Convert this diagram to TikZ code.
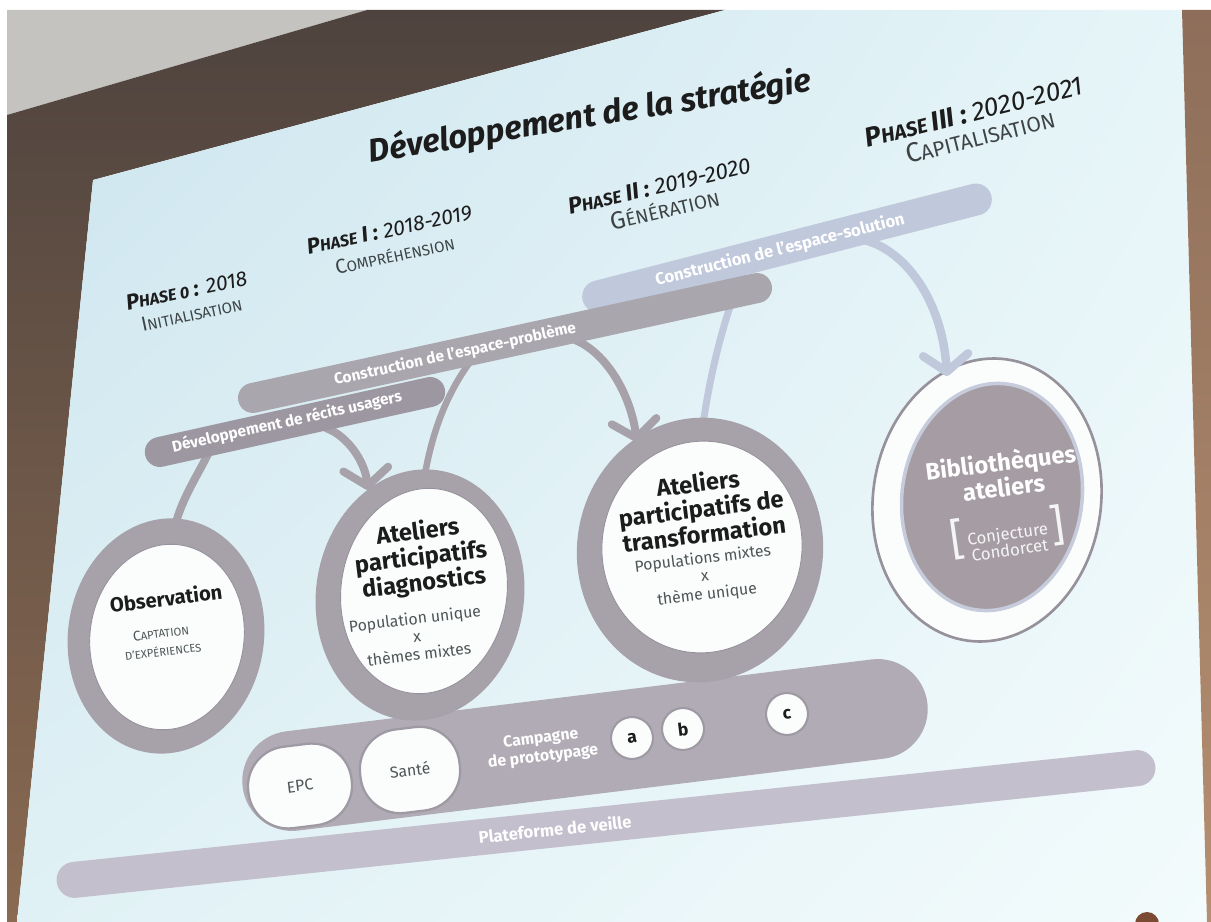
\documentclass[tikz,border=0pt]{standalone}
\usepackage{fontspec}
\setmainfont{Fira Sans}
\usetikzlibrary{arrows.meta,shapes.geometric,shadings}
\definecolor{ceil}{HTML}{C4C3C0}
\definecolor{wall}{HTML}{4E433E}
\definecolor{wallb}{HTML}{8A6A52}
\definecolor{stripA}{HTML}{8E6E5A}
\definecolor{stripB}{HTML}{B58F70}
\definecolor{slUL}{HTML}{CCE4EE}
\definecolor{slUR}{HTML}{E6F5F8}
\definecolor{slLL}{HTML}{E0F1F5}
\definecolor{slLR}{HTML}{F3FBFC}
\definecolor{ring}{HTML}{A7A2AA}
\definecolor{ringd}{HTML}{96919A}
\definecolor{bandc}{HTML}{B0ABB4}
\definecolor{recit}{HTML}{9C97A0}
\definecolor{prob}{HTML}{AAA6AE}
\definecolor{plat}{HTML}{C3BFCD}
\definecolor{sol}{HTML}{C0C8DC}
\definecolor{inner}{HTML}{FBFDFD}
\definecolor{pillrim}{HTML}{9E99A2}
\definecolor{txt}{HTML}{1C1C1C}
\definecolor{sub}{HTML}{4E5556}
\definecolor{bib}{HTML}{A69DA4}
\definecolor{bibrim}{HTML}{C6CCDC}
\definecolor{head}{HTML}{7B4A32}
% fake small caps: big size, small size, big text, small text
\newcommand\SCx[4]{{\fontsize{#1}{#1}\selectfont #3}{\fontsize{#2}{#2}\selectfont #4}}
\tikzset{
  phase/.style={inner sep=0, text=txt, align=center},
  bandtxt/.style={inner sep=0, text=white, font=\bfseries\fontsize{8.8}{10.5}\selectfont},
  ringnode/.style={ellipse, fill=ring, inner sep=0, rotate=-8},
  innernode/.style={ellipse, fill=inner, draw=ringd, line width=0.5pt, inner sep=0, rotate=-8},
  ctitle/.style={inner sep=0, text=txt, rotate=7, align=center, font=\bfseries\fontsize{13.5}{14.6}\selectfont},
  csub/.style={inner sep=0, text=sub, rotate=7, align=center, font=\fontsize{9}{10.2}\selectfont},
  pill/.style={fill=inner, draw=pillrim, line width=1.3pt, rotate=7, inner sep=0, text=sub, font=\fontsize{9}{11}\selectfont},
  abc/.style={circle, fill=inner, draw=pillrim, line width=1.2pt, minimum size=0.84cm, inner sep=0, rotate=7, text=txt, font=\bfseries\fontsize{10}{12}\selectfont},
  gline/.style={draw=ring, line width=0.16cm, line cap=round},
  bline/.style={draw=sol, line width=0.15cm, line cap=round},
  barb/.style={-{Straight Barb[length=0.34cm,width=0.9cm,round]}}
}
\begin{document}
\begin{tikzpicture}[x=0.02cm,y=-0.02cm]
\useasboundingbox (0,0) rectangle (1211,922);
% background photo
\fill[white] (0,0) rectangle (1211,922);
\fill[ceil] (7,10) -- (367,10) -- (7,115) -- cycle;
\shade[top color=wall, bottom color=wallb] (7,115) -- (367,10) -- (725,10) -- (93,180) -- (17,922) -- (7,922) -- cycle;
\shade[upper left=slUL, upper right=slUR, lower left=slLL, lower right=slLR] (93,180) -- (725,10) -- (1182,10) -- (1207,922) -- (17,922) -- cycle;
\shade[top color=stripA, bottom color=stripB] (1182,10) -- (1211,10) -- (1211,922) -- (1207,922) -- cycle;
\fill[head] (1147,924) circle (12);

% bottom bands
\node[fill=plat, rounded corners=0.36cm, minimum width=22.1cm, minimum height=0.72cm, rotate=6, inner sep=0] (plat) at (606,824) {};
\node[fill=bandc, rounded corners=1cm, minimum width=13.8cm, minimum height=2cm, rotate=7, inner sep=0] (camp) at (585,745) {};

% link lines (under shapes)
\coordinate (r1) at (210,450);
\coordinate (obsTop) at (175,526);
\draw[gline] (r1) .. controls (198,475) and (182,498) .. (obsTop);
\coordinate (diagTop) at (424,480);
\coordinate (p1) at (470,362);
\draw[gline, line width=0.13cm] (diagTop) .. controls (432,430) and (448,392) .. (p1);
\coordinate (trTop) at (702,432);
\coordinate (s1) at (744,270);
\draw[bline, line width=0.14cm] (trTop) .. controls (708,385) and (722,320) .. (s1);

% circles
\node[ringnode, minimum width=3.92cm, minimum height=4.72cm] (obs) at (166,636) {};
\node[innernode, minimum width=3.08cm, minimum height=3.72cm] (obsI) at (167,637) {};
\node[ringnode, minimum width=4.16cm, minimum height=5.04cm] (diag) at (420,595) {};
\node[innernode, minimum width=3.32cm, minimum height=4.12cm] (diagI) at (424,591) {};
\node[ringnode, minimum width=4.92cm, minimum height=5.3cm] (trans) at (700,550) {};
\node[innernode, minimum width=4cm, minimum height=4.24cm] (transI) at (702,547) {};
\node[ellipse, fill=inner, draw=ringd, line width=1.5pt, rotate=-8, inner sep=0, minimum width=4.56cm, minimum height=5.68cm] (bib) at (987,500) {};
\node[ellipse, fill=bib, draw=bibrim, line width=2pt, rotate=-8, inner sep=0, minimum width=3.6cm, minimum height=4.56cm] (bibI) at (992,497) {};

% pills and small circles
\node[pill, minimum width=2.08cm, minimum height=1.64cm, rounded corners=0.8cm] (epc) at (300,786) {EPC};
\node[pill, minimum width=2cm, minimum height=1.68cm, rounded corners=0.8cm] (sante) at (410,770) {Santé};
\node[abc] (a) at (632,738) {a};
\node[abc] (b) at (683,729) {b};
\node[abc] (c) at (787,714) {c};

% arrows with heads
\coordinate (r2) at (326,428);
\coordinate (diagIn) at (368,490);
\draw[gline, barb] (r2) .. controls (348,436) and (365,462) .. (diagIn);
\coordinate (p2) at (575,340);
\coordinate (trIn) at (637,442);
\draw[gline, barb] (p2) .. controls (605,352) and (630,392) .. (trIn);
\coordinate (s2) at (864,240);
\coordinate (bibIn) at (947,376);
\draw[bline, line width=0.17cm, barb] (s2) .. controls (905,250) and (942,300) .. (bibIn);

% upper bands
\node[fill=sol, rounded corners=0.32cm, minimum width=8.44cm, minimum height=0.64cm, rotate=14.4, inner sep=0] (solband) at (787,248) {};
\node[fill=prob, rounded corners=0.3cm, minimum width=10.92cm, minimum height=0.6cm, rotate=12.3, inner sep=0] (probband) at (505,343) {};
\node[fill=recit, rounded corners=0.3cm, minimum width=6.14cm, minimum height=0.6cm, rotate=12.5, inner sep=0] (recband) at (295,422) {};

% band texts
\node[bandtxt, rotate=12.5] (recT) at (287,422) {Développement de récits usagers};
\node[bandtxt, rotate=12.3] (probT) at (455,354) {Construction de l'espace-problème};
\node[bandtxt, rotate=14, font=\bfseries\fontsize{9.5}{11}\selectfont] (solT) at (780,250) {Construction de l'espace-solution};
\node[bandtxt, rotate=6, font=\bfseries\fontsize{9.5}{11}\selectfont] (platT) at (555,829) {Plateforme de veille};
\node[bandtxt, rotate=7, align=center, font=\bfseries\fontsize{9}{10.5}\selectfont] (campT) at (542,748) {Campagne\\de prototypage};

% title and phases
\node[inner sep=0, text=txt, rotate=9.2, font=\bfseries\itshape\fontsize{18.5}{21}\selectfont] (title) at (590,117) {Développement de la stratégie};
\node[phase, rotate=12, font=\fontsize{12}{13.5}\selectfont] (p0) at (189,302)
  {{\bfseries\itshape\SCx{12.5}{9.3}{P}{HASE 0} \SCx{12.5}{9.3}{:}{}} {\itshape\SCx{12}{9}{2018}{}}\\
   {\color{sub!80!black}\SCx{11.5}{8.6}{I}{NITIALISATION}}};
\node[phase, rotate=12, font=\fontsize{12}{14.5}\selectfont] (p1) at (392,242)
  {{\bfseries\itshape\SCx{12.5}{9.3}{P}{HASE} \SCx{12.5}{9.3}{I :}{}} {\itshape\SCx{12}{9}{2018-2019}{}}\\
   {\color{sub!80!black}\SCx{11.5}{8.6}{C}{OMPRÉHENSION}}};
\node[phase, rotate=13, font=\fontsize{12}{14}\selectfont] (p2) at (662,198)
  {{\bfseries\itshape\SCx{13.2}{9.9}{P}{HASE} \SCx{13.2}{9.9}{II :}{}} {\itshape\SCx{12.8}{9}{2019-2020}{}}\\
   {\color{sub!80!black}\SCx{14}{10.8}{G}{ÉNÉRATION}}};
\node[phase, rotate=14, font=\fontsize{12}{14.5}\selectfont] (p3) at (977,124)
  {{\bfseries\itshape\SCx{15.5}{11.6}{P}{HASE} \SCx{15.5}{11.6}{III :}{}} {\itshape\SCx{15}{9}{2020-2021}{}}\\
   {\color{sub!80!black}\SCx{15.5}{12}{C}{APITALISATION}}};

% circle texts
\node[ctitle, font=\bfseries\fontsize{11.5}{13}\selectfont] (obsA) at (166,598) {Observation};
\node[csub, font=\fontsize{8}{10.5}\selectfont] (obsB) at (162,642) {\SCx{8}{6.4}{C}{APTATION}\\\SCx{6.4}{6.4}{D'EXPÉRIENCES}{}};

\node[ctitle] (dA) at (421,558) {Ateliers\\participatifs\\diagnostics};
\node[csub] (dB) at (417,636) {Population unique\\x\\thèmes mixtes};

\node[ctitle] (tA) at (701,508) {Ateliers\\participatifs de\\transformation};
\node[csub] (tB) at (705,577) {Populations mixtes\\x\\thème unique};

\node[ctitle, text=white, font=\bfseries\fontsize{13.5}{14.5}\selectfont] (bA) at (1002,474) {Bibliothèques\\ateliers};
\node[inner sep=0, rotate=8, text=white!92!gray, font=\fontsize{9.5}{9.5}\selectfont] (bC) at (1008,536)
  {{\fontsize{25}{25}\selectfont[}\,\renewcommand\arraystretch{0.8}\begin{tabular}{@{}c@{}}Conjecture\\Condorcet\end{tabular}\,{\fontsize{25}{25}\selectfont]}};
\end{tikzpicture}
\end{document}
